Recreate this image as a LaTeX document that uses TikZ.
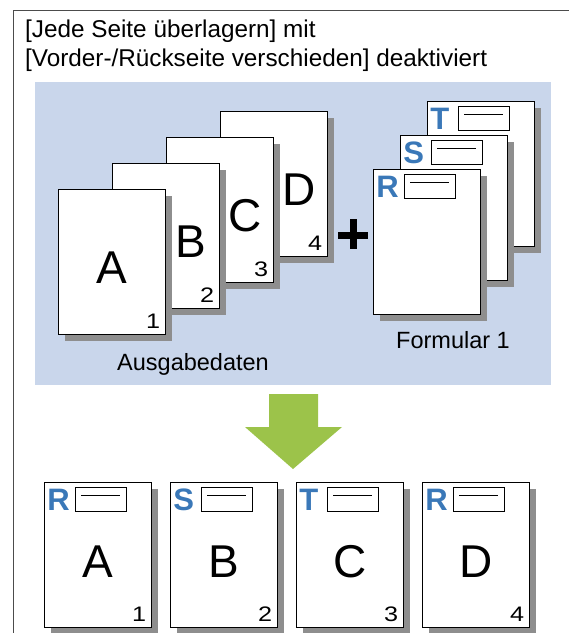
\documentclass[tikz,border=0pt]{standalone}
\usepackage{fontspec}
\setmainfont{Liberation Sans}
\newfontfamily\digitfont[FakeStretch=1.2]{Liberation Sans}
\usepackage{xcolor}
\usepackage{tikz}
\usetikzlibrary{shadows}
\definecolor{panelblue}{HTML}{C9D6EB}
\definecolor{tagblue}{HTML}{3A78B8}
\definecolor{leafgreen}{HTML}{9CC34A}
\definecolor{shadowgray}{HTML}{8E8E8E}

\begin{document}
\begin{tikzpicture}[x=1pt,y=-1pt,
  page/.style={draw,fill=white,line width=1.5pt,minimum width=107,minimum height=145,inner sep=0,
    drop shadow={shadow xshift=6pt,shadow yshift=-6pt,fill=shadowgray,opacity=1}},
  letter/.style={font=\fontsize{46}{46}\selectfont,inner sep=0},
  num/.style={font=\digitfont\fontsize{21}{21}\selectfont,inner sep=0,anchor=base east},
  tag/.style={font=\bfseries\fontsize{31}{31}\selectfont,text=tagblue,inner sep=0,anchor=north west},
  field/.style={draw,line width=1.3pt,minimum width=51,minimum height=24,inner sep=0,anchor=north west,
    path picture={\draw[line width=1.8pt] ([xshift=6pt,yshift=-8pt]path picture bounding box.north west) -- ([xshift=-6pt,yshift=-8pt]path picture bounding box.north east);}},
  stacktitle/.style={font=\fontsize{23.5}{28}\selectfont,anchor=base},
  headline/.style={font=\fontsize{24.3}{29}\selectfont,anchor=base west,inner sep=0}]
\useasboundingbox (0,0) rectangle (569,633);
\draw[line width=1pt,black!70] (13,633) -- (13,10) -- (569,10);
\node[headline] (head1) at (25,37) {[Jede Seite überlagern] mit};
\node[headline] (head2) at (25,66) {[Vorder-/Rückseite verschieden] deaktiviert};
\fill[panelblue] (35,82) rectangle (551,385);
% Ausgabedaten
\node[page] (pd) at (274,184) {};
\node[letter] (ld) at ([xshift=25pt,yshift=-6pt]pd.center) {D};
\node[num] (nd) at ([xshift=-6pt,yshift=7pt]pd.south east) {4};
\node[page] (pc) at (220,210) {};
\node[letter] (lc) at ([xshift=25pt,yshift=-6pt]pc.center) {C};
\node[num] (nc) at ([xshift=-6pt,yshift=7pt]pc.south east) {3};
\node[page] (pb) at (166,236) {};
\node[letter] (lb) at ([xshift=25pt,yshift=-6pt]pb.center) {B};
\node[num] (nb) at ([xshift=-6pt,yshift=7pt]pb.south east) {2};
\node[page] (pa) at (112,262) {};
\node[letter] (la) at ([yshift=-6pt]pa.center) {A};
\node[num] (na) at ([xshift=-6pt,yshift=7pt]pa.south east) {1};
\node[stacktitle] (data) at (193,370) {Ausgabedaten};
\draw[line width=7pt] (338,235) -- (368,235) (353,219) -- (353,249);
% Formular 1
\node[page] (pt) at (481,174) {};
\node[tag] (tt) at ([xshift=3.5pt,yshift=-7pt]pt.north west) {T};
\node[field] (ft) at ([xshift=31pt,yshift=-5pt]pt.north west) {};
\node[page] (ps) at (454,208) {};
\node[tag] (ts) at ([xshift=3.5pt,yshift=-7pt]ps.north west) {S};
\node[field] (fs) at ([xshift=31pt,yshift=-5pt]ps.north west) {};
\node[page] (pr) at (427,242) {};
\node[tag] (tr) at ([xshift=3.5pt,yshift=-7pt]pr.north west) {R};
\node[field] (fr) at ([xshift=31pt,yshift=-5pt]pr.north west) {};
\node[stacktitle] (form) at (453,348) {Formular 1};
% Ergebnis
\fill[leafgreen] (269,394) -- (318,394) -- (318,427) -- (342,427) -- (293,469) -- (245,427) -- (269,427) -- cycle;
\node[page] (p1) at (98,555) {};
\node[tag] (t1) at ([xshift=3.5pt,yshift=-7pt]p1.north west) {R};
\node[field] (f1) at ([xshift=31pt,yshift=-5pt]p1.north west) {};
\node[letter] (l1) at ([yshift=-7pt]p1.center) {A};
\node[num] (n1) at ([xshift=-6pt,yshift=7pt]p1.south east) {1};
\node[page] (p2) at (224,555) {};
\node[tag] (t2) at ([xshift=3.5pt,yshift=-7pt]p2.north west) {S};
\node[field] (f2) at ([xshift=31pt,yshift=-5pt]p2.north west) {};
\node[letter] (l2) at ([yshift=-7pt]p2.center) {B};
\node[num] (n2) at ([xshift=-6pt,yshift=7pt]p2.south east) {2};
\node[page] (p3) at (350,555) {};
\node[tag] (t3) at ([xshift=3.5pt,yshift=-7pt]p3.north west) {T};
\node[field] (f3) at ([xshift=31pt,yshift=-5pt]p3.north west) {};
\node[letter] (l3) at ([yshift=-7pt]p3.center) {C};
\node[num] (n3) at ([xshift=-6pt,yshift=7pt]p3.south east) {3};
\node[page] (p4) at (476,555) {};
\node[tag] (t4) at ([xshift=3.5pt,yshift=-7pt]p4.north west) {R};
\node[field] (f4) at ([xshift=31pt,yshift=-5pt]p4.north west) {};
\node[letter] (l4) at ([yshift=-7pt]p4.center) {D};
\node[num] (n4) at ([xshift=-6pt,yshift=7pt]p4.south east) {4};
\end{tikzpicture}
\end{document}
